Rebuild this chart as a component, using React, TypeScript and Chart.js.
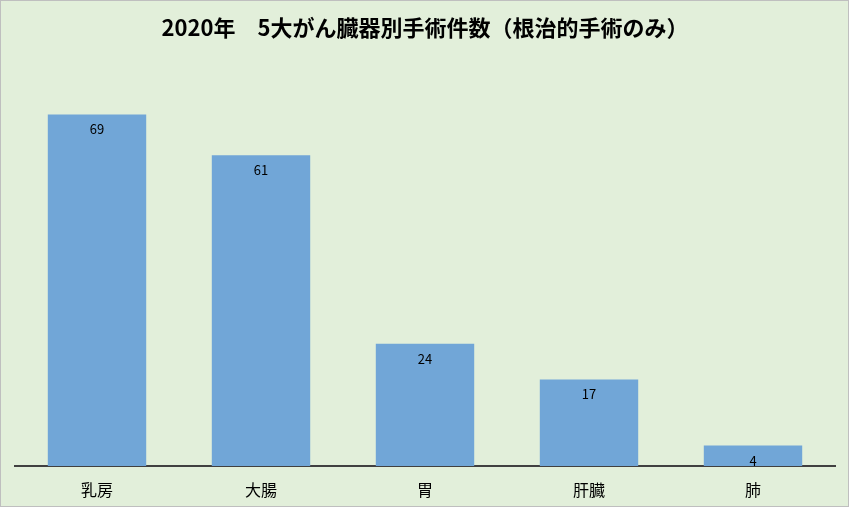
import { useEffect, useRef } from "react";
import { Chart, registerables } from "chart.js";

Chart.register(...registerables);

const organs = ["乳房", "大腸", "胃", "肝臓", "肺"];
const surgeryCounts = [69, 61, 24, 17, 4];
const chartTitle = "2020年　5大がん臓器別手術件数（根治的手術のみ）";

const bgPlugin = {
  id: "bg",
  beforeDraw(chart: Chart) {
    const { ctx, width, height } = chart;
    ctx.save();
    ctx.fillStyle = "#E2EFDA";
    ctx.fillRect(0, 0, width, height);
    ctx.strokeStyle = "#BFBFBF";
    ctx.lineWidth = 1;
    ctx.strokeRect(0.5, 0.5, width - 1, height - 1);
    ctx.restore();
  },
};

// value labels just inside the top of each bar
const valueLabels = {
  id: "valueLabels",
  afterDatasetsDraw(chart: Chart) {
    const { ctx } = chart;
    const meta = chart.getDatasetMeta(0);
    ctx.save();
    ctx.font = '13px "Noto Sans CJK JP", "Noto Sans", sans-serif';
    ctx.fillStyle = "#000000";
    ctx.textAlign = "center";
    ctx.textBaseline = "middle";
    meta.data.forEach((bar: any, i: number) => {
      ctx.fillText(String(surgeryCounts[i]), bar.x, bar.y + 15);
    });
    ctx.restore();
  },
};

export default function App() {
  const canvasRef = useRef<HTMLCanvasElement>(null);
  const chartRef = useRef<Chart | null>(null);

  useEffect(() => {
    document.body.style.margin = "0";
    if (!canvasRef.current) return;
    if (chartRef.current) chartRef.current.destroy();

    chartRef.current = new Chart(canvasRef.current, {
      type: "bar",
      data: {
        labels: organs,
        datasets: [
          {
            data: surgeryCounts,
            backgroundColor: "#71A6D7",
            borderWidth: 0,
            barPercentage: 0.6,
            categoryPercentage: 1,
          },
        ],
      },
      options: {
        responsive: true,
        maintainAspectRatio: false,
        animation: false,
        layout: { padding: { left: 15, right: 14, top: 0, bottom: 7 } },
        plugins: {
          legend: { display: false },
          tooltip: { enabled: false },
          title: {
            display: true,
            text: chartTitle,
            color: "#000000",
            font: { family: '"Noto Sans CJK JP", sans-serif', size: 22, weight: "bold" },
            padding: { top: 14, bottom: 18 },
          },
        },
        scales: {
          x: {
            grid: { display: false },
            border: { display: true, color: "#404040", width: 2 },
            ticks: {
              color: "#000000",
              padding: 6,
              font: { family: '"Noto Sans CJK JP", sans-serif', size: 16 },
            },
            afterFit(scale: any) {
              scale.height = 34;
            },
          },
          y: {
            display: false,
            min: 0,
            max: 80,
          },
        },
      },
      plugins: [bgPlugin, valueLabels],
    });

    return () => {
      if (chartRef.current) {
        chartRef.current.destroy();
        chartRef.current = null;
      }
    };
  }, []);

  return (
    <div style={{ position: "relative", width: "849px", height: "507px" }}>
      <canvas ref={canvasRef}></canvas>
    </div>
  );
}
